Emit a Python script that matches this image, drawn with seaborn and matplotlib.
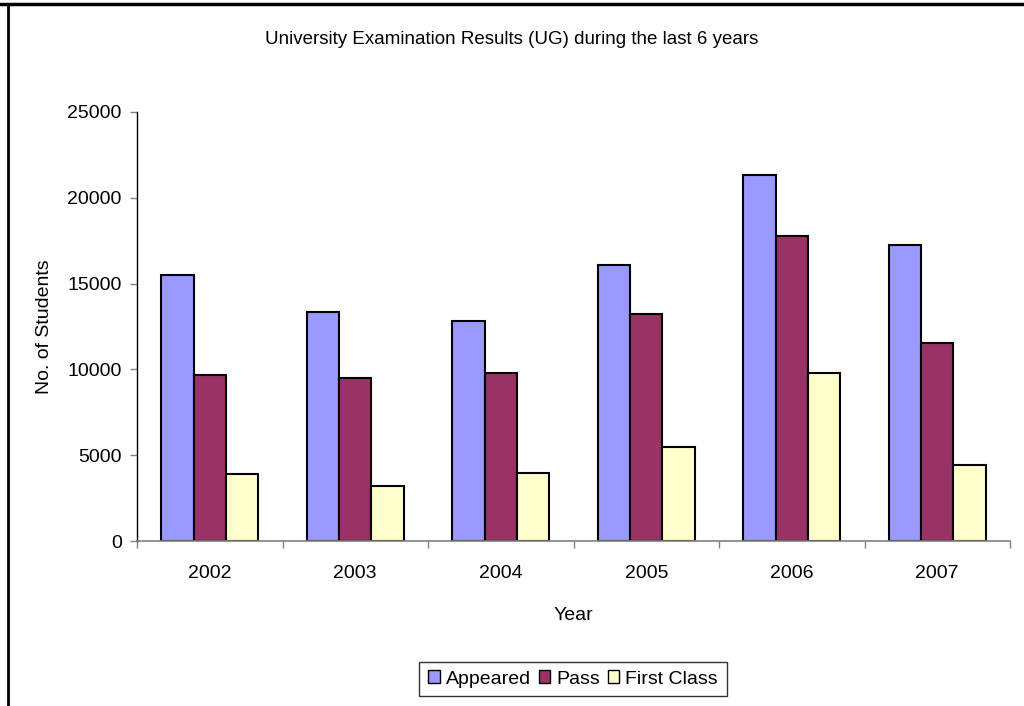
import matplotlib
matplotlib.use("Agg")
import matplotlib.pyplot as plt
import seaborn as sns
import pandas as pd
from matplotlib.lines import Line2D
from matplotlib.patches import Patch

years = ["2002", "2003", "2004", "2005", "2006", "2007"]
appeared = [15520, 13340, 12800, 16110, 21330, 17230]
passed = [9700, 9480, 9790, 13250, 17800, 11520]
first_class = [3890, 3190, 3990, 5460, 9810, 4430]
series_names = ["Appeared", "Pass", "First Class"]
colors = ["#9999FF", "#993366", "#FFFFCC"]
yticks = [0, 5000, 10000, 15000, 20000, 25000]

rows = []
for name, vals in zip(series_names, [appeared, passed, first_class]):
    for y, v in zip(years, vals):
        rows.append({"Year": y, "Series": name, "Students": v})
df = pd.DataFrame(rows)

sns.set_style("white", {"text.color": "black", "axes.labelcolor": "black",
                        "xtick.color": "black", "ytick.color": "black"})
plt.rcParams["font.family"] = ["Liberation Sans", "DejaVu Sans"]

fig = plt.figure(figsize=(10.24, 7.06), dpi=100)
ax = fig.add_axes([137 / 1024, 1 - 541 / 706, (1010 - 137) / 1024, (541 - 112) / 706])

sns.barplot(data=df, x="Year", y="Students", hue="Series", order=years,
            hue_order=series_names, palette=colors, width=0.667,
            edgecolor="black", linewidth=1.5, saturation=1, ax=ax, legend=True)

ax.set_ylim(0, 25000)
ax.set_xlim(-0.5, len(years) - 0.5)
ax.set_yticks(yticks)
ax.set_yticklabels([str(t) for t in yticks], fontsize=14, color="black")
ax.tick_params(axis="y", which="major", direction="out", length=5, width=1,
               color="#808080", pad=6, left=True)
ax.set_xticks(range(len(years)))
ax.set_xticklabels(years, fontsize=14, color="black")
ax.tick_params(axis="x", which="major", length=0, pad=17)
ax.set_xticks([i - 0.5 for i in range(len(years) + 1)], minor=True)
ax.tick_params(axis="x", which="minor", direction="out", length=5, width=1,
               color="#808080", bottom=True)

for s in ["top", "right"]:
    ax.spines[s].set_visible(False)
ax.spines["left"].set_color("black")
ax.spines["left"].set_linewidth(1)
ax.spines["bottom"].set_color("#808080")
ax.spines["bottom"].set_linewidth(1.2)

ax.set_ylabel("No. of Students", fontsize=14, labelpad=10, color="black")
ax.set_xlabel("Year", fontsize=14, labelpad=18, color="black")
fig.text(512 / 1024, 1 - 40 / 706, "University Examination Results (UG) during the last 6 years",
         ha="center", va="center", fontsize=13.5, color="black")

ax.legend_.remove()
handles = [Patch(facecolor=c, edgecolor="black", linewidth=1) for c in colors]
leg = fig.legend(handles, series_names, loc="center", bbox_to_anchor=(573 / 1024, 1 - 679 / 706),
                 ncol=3, fontsize=14, frameon=True, fancybox=False, handlelength=0.6,
                 handleheight=0.6, handletextpad=0.3, columnspacing=0.4, borderpad=0.45,
                 labelcolor="black")
leg.get_frame().set_edgecolor("black")
leg.get_frame().set_linewidth(1)

fig.add_artist(Line2D([0, 1], [1 - 3.5 / 706, 1 - 3.5 / 706], color="black", lw=2.5,
                      transform=fig.transFigure))
fig.add_artist(Line2D([8 / 1024, 8 / 1024], [0, 1 - 3.5 / 706], color="black", lw=2,
                      transform=fig.transFigure))

fig.savefig("out.png", dpi=100, facecolor="white")
